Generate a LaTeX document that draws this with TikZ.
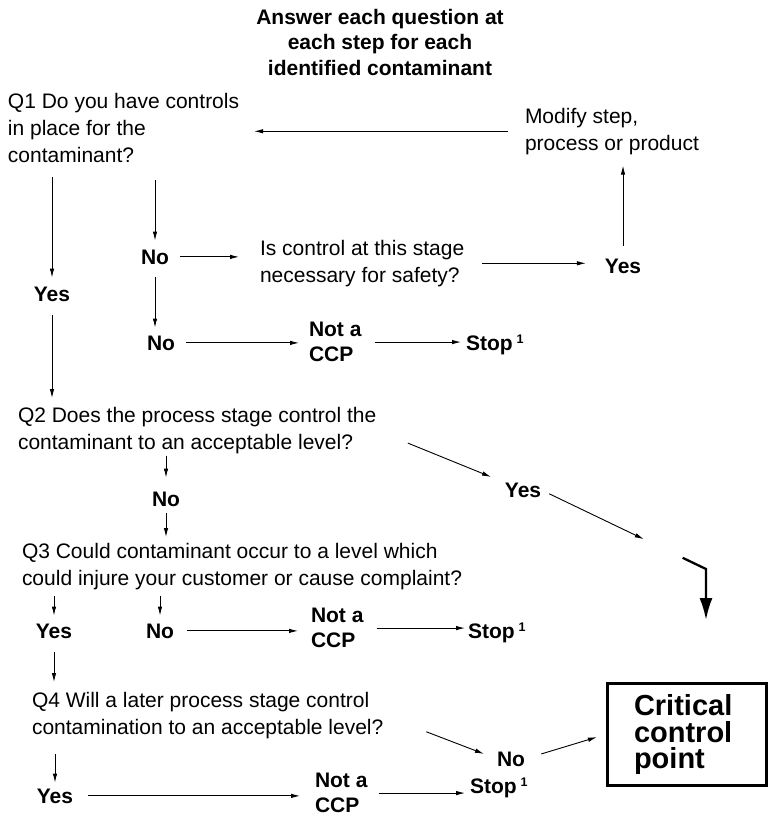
\documentclass[tikz,border=0pt]{standalone}
\usepackage{fontspec}
\setmainfont{Liberation Sans}
\usepackage{tikz}
\usetikzlibrary{arrows.meta}
\newcommand{\notccp}{Not a\\CCP}
\newcommand{\stopone}{Stop\kern4pt\raisebox{6.4pt}{\fontsize{12.5}{12.5}\selectfont 1}}
\tikzset{
  txt/.style={inner sep=0pt, outer sep=0pt, align=left, font=\fontsize{21}{27}\selectfont},
  lbl/.style={inner sep=0pt, outer sep=0pt, align=left, font=\fontsize{21}{25.5}\selectfont\bfseries},
  arr/.style={-{Latex[length=9pt,width=4.5pt]}, line width=0.9pt},
  bigarr/.style={-{Latex[length=22pt,width=13pt]}, line width=2.3pt},
  ccpbox/.style={draw, line width=3pt, minimum width=159pt, minimum height=102pt, inner sep=0pt, text width=105pt, align=left, font=\fontsize{29}{26.5}\selectfont\bfseries}
}
\begin{document}
\begin{tikzpicture}[x=1pt, y=-1pt]
        \useasboundingbox (0,0) rectangle (769,823);
        % heading
        \node[lbl, align=center, anchor=north] (title) at (380,9) {Answer each question at\\each step for each\\identified contaminant};
        % Q1
        \node[txt, anchor=north west] (q1) at (8,93) {Q1 Do you have controls\\in place for the\\contaminant?};
        \node[txt, anchor=north west] (modify) at (525,108) {Modify step,\\process or product};
        \node[lbl, anchor=base] (yesA) at (52,301) {Yes};
        \node[lbl, anchor=base] (noA) at (155,264) {No};
        \node[txt, anchor=north west] (isctrl) at (260,240) {Is control at this stage\\necessary for safety?};
        \node[lbl, anchor=base] (yesB) at (623,273) {Yes};
        \node[lbl, anchor=base] (noB) at (161,350) {No};
        \node[lbl, anchor=north west] (notA) at (309,322) {\notccp};
        \node[lbl, anchor=base west] (stopA) at (466,350) {\stopone};
        % Q2
        \node[txt, anchor=north west] (q2) at (18,407) {Q2 Does the process stage control the\\contaminant to an acceptable level?};
        \node[lbl, anchor=base] (yesC) at (523,497) {Yes};
        \node[lbl, anchor=base] (noC) at (166,506) {No};
        \coordinate (bend) at (706,569);
        % Q3
        \node[txt, anchor=north west] (q3) at (22,543) {Q3 Could contaminant occur to a level which\\could injure your customer or cause complaint?};
        \node[lbl, anchor=base] (yesD) at (54,638) {Yes};
        \node[lbl, anchor=base] (noD) at (160,638) {No};
        \node[lbl, anchor=north west] (notB) at (311,608) {\notccp};
        \node[lbl, anchor=base west] (stopB) at (468,638) {\stopone};
        % Q4
        \node[txt, anchor=north west] (q4) at (32,692) {Q4 Will a later process stage control\\contamination to an acceptable level?};
        \node[lbl, anchor=base] (noE) at (511,766) {No};
        \node[ccpbox] (ccp) at (686.5,734.5) {Critical\\control\\point};
        \node[lbl, anchor=base] (yesF) at (55,803) {Yes};
        \node[lbl, anchor=north west] (notC) at (315,773) {\notccp};
        \node[lbl, anchor=base west] (stopC) at (470,793) {\stopone};

        % row1
        \draw[arr, shorten <=17pt, shorten >=15pt] (modify.west) -- (modify.west -| q1.east);
        \draw[arr, shorten <=13pt, shorten >=11pt] (yesB.north) -- (yesB.north |- modify.south);
        \draw[arr, shorten <=15pt, shorten >=9pt] (q1.south -| yesA.north) -- (yesA.north);
        \draw[arr, shorten <=18pt, shorten >=9pt] (q1.south -| noA.north) -- (noA.north);
        \draw[arr, shorten <=11pt, shorten >=21pt] (noA.east) -- (noA.east -| isctrl.west);
        \draw[arr, shorten <=18pt, shorten >=19pt] (isctrl.east) -- (isctrl.east -| yesB.west);
        \draw[arr, shorten <=13pt, shorten >=8pt] (noA.south) -- (noA.south |- noB.north);
        \draw[arr, shorten <=11pt, shorten >=10pt] (noB.east) -- (noB.east -| notA.west);
        \draw[arr, shorten <=13pt, shorten >=5pt] (notA.east) -- (notA.east -| stopA.west);
        % row2
        \draw[arr, shorten <=14pt, shorten >=9pt] (yesA.south) -- (yesA.south |- q2.north);
        \draw[arr, shorten <=34pt, shorten >=15pt] (q2.east) -- (yesC.north west);
        \draw[arr, shorten <=9pt, shorten >=69pt] (yesC.east) -- (bend);
        \draw[bigarr, shorten <=157pt, shorten >=62pt] (yesC.east) -- (bend) -- (bend |- ccp.north);
        \draw[arr, shorten <=2pt, shorten >=14pt] (q2.south -| noC.north) -- (noC.north);
        \draw[arr, shorten <=7pt, shorten >=6pt] (noC.south) -- (noC.south |- q3.north);
        % row3
        \draw[arr, shorten <=6pt, shorten >=8pt] (q3.south -| yesD.north) -- (yesD.north);
        \draw[arr, shorten <=6pt, shorten >=8pt] (q3.south -| noD.north) -- (noD.north);
        \draw[arr, shorten <=13pt, shorten >=13pt] (noD.east) -- (noD.east -| notB.west);
        \draw[arr, shorten <=13pt, shorten >=3pt] (notB.east) -- (notB.east -| stopB.west);
        % row4
        \draw[arr, shorten <=14pt, shorten >=10pt] (yesD.south) -- (yesD.south |- q4.north);
        \draw[arr, shorten <=46pt, shorten >=14pt] (q4.east) -- (noE.west);
        \draw[arr, shorten <=17pt, shorten >=9pt] (noE.east) -- (ccp.west);
        \draw[arr, shorten <=15pt, shorten >=6pt] (q4.south -| yesF.north) -- (yesF.north);
        \draw[arr, shorten <=15pt, shorten >=15pt] (yesF.east) -- (yesF.east -| notC.west);
        \draw[arr, shorten <=11pt, shorten >=5pt] (notC.east) -- (notC.east -| stopC.west);
    \end{tikzpicture}
\end{document}
